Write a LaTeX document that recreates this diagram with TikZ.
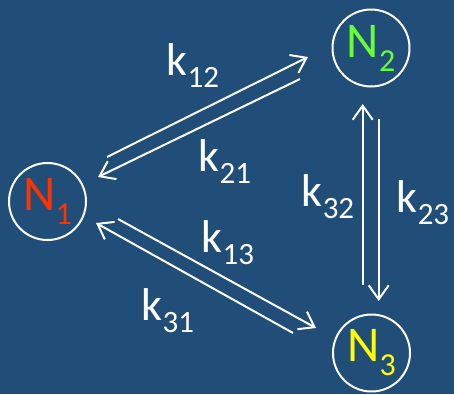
\documentclass[tikz,border=0pt]{standalone}
\usepackage{fontspec}
\setmainfont{Carlito}
\usetikzlibrary{arrows.meta}
\definecolor{bg}{RGB}{32,78,121}
\definecolor{nred}{RGB}{255,51,0}
\definecolor{ngreen}{RGB}{102,255,51}
\definecolor{nyellow}{RGB}{255,255,0}
\newcommand{\klab}[2]{\fontsize{46}{46}\selectfont #1\raisebox{-12pt}{\fontsize{31}{31}\selectfont #2}}
\newcommand{\nlab}[2]{\fontsize{50}{50}\selectfont #1\raisebox{-14pt}{\fontsize{32}{32}\selectfont #2}}
\begin{document}
\begin{tikzpicture}[x=1pt,y=-1pt,
  state/.style={circle,draw=white,line width=2pt,minimum size=77pt,inner sep=0pt},
  arr/.style={draw=white,line width=2pt,-{Straight Barb[length=14pt,width=20pt,line width=2pt]}},
  lab/.style={text=white,inner sep=0pt,anchor=center}]
\fill[bg] (0,0) rectangle (454,394);
\useasboundingbox (0,0) rectangle (454,394);
\node[state] (N1) at (47.5,201.5) {};
\node[state] (N2) at (371,48) {};
\node[state] (N3) at (371.5,353) {};
\node[text=nred,inner sep=0pt] (t1) at (N1) {\nlab{N}{1}};
\node[text=ngreen,inner sep=0pt] (t2) at (N2) {\nlab{N}{2}};
\node[text=nyellow,inner sep=0pt] (t3) at (N3) {\nlab{N}{3}};
% endpoints
\coordinate (a12s) at (107,157);
\coordinate (a12e) at (308,57);
\coordinate (a21s) at (300,79);
\coordinate (a21e) at (98,177);
\coordinate (a13s) at (118,219);
\coordinate (a13e) at (316,328);
\coordinate (a31s) at (293,333);
\coordinate (a31e) at (96,223);
\coordinate (a32s) at (362.7,285);
\coordinate (a32e) at (362.7,104);
\coordinate (a23s) at (378.7,119);
\coordinate (a23e) at (378.7,301);
\draw[arr] (a12s) -- (a12e);
\draw[arr] (a21s) -- (a21e);
\draw[arr] (a13s) -- (a13e);
\draw[arr] (a31s) -- (a31e);
\draw[arr] (a32s) -- (a32e);
\draw[arr] (a23s) -- (a23e);
\node[lab] (k12) at (193,66) {\klab{k}{12}};
\node[lab] (k21) at (225,162) {\klab{k}{21}};
\node[lab] (k32) at (328,197) {\klab{k}{32}};
\node[lab] (k23) at (423,203) {\klab{k}{23}};
\node[lab] (k13) at (228,243) {\klab{k}{13}};
\node[lab] (k31) at (168,311) {\klab{k}{31}};
\end{tikzpicture}
\end{document}
